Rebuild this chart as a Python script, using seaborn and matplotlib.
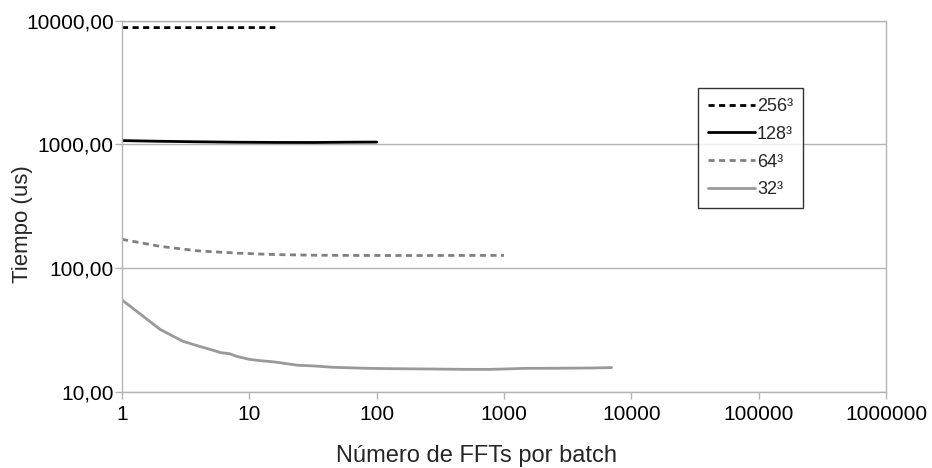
import matplotlib
matplotlib.use("Agg")
import matplotlib.pyplot as plt
import matplotlib.ticker as mticker
import seaborn as sns
import pandas as pd

sns.set_theme(style="white")
plt.rcParams['font.family'] = ['Liberation Sans', 'DejaVu Sans']

# data
n256 = [1, 2, 4, 8, 16]
t256 = [8770, 8760, 8750, 8760, 8770]

n128 = [1, 2, 4, 8, 16, 32, 64, 100]
t128 = [1069, 1055, 1045, 1037, 1033, 1032, 1038, 1040]

n64 = [1, 2, 4, 8, 16, 32, 64, 128, 256, 512, 1000]
t64 = [170, 149, 137, 131.5, 128, 126.5, 126, 125.8, 125.8, 126, 126]

n32 = [1, 2, 3, 4, 5, 6, 7, 8, 10, 12, 16, 24, 32, 45, 84, 128, 277, 512, 777, 1000, 1510, 2048, 5000, 7000]
t32 = [55, 31.7, 25.5, 23.3, 21.8, 20.6, 20.2, 19.2, 18.2, 17.8, 17.3, 16.3, 16.1, 15.7, 15.4, 15.3, 15.2, 15.1, 15.1, 15.2, 15.4, 15.4, 15.5, 15.6]

labels = ["256³", "128³", "64³", "32³"]
series = [(n256, t256), (n128, t128), (n64, t64), (n32, t32)]
colors = ["#000000", "#000000", "#808080", "#999999"]
styles = [(0, (2.2, 1.6)), "-", (0, (2.2, 1.6)), "-"]

W, H = 932, 468
fig = plt.figure(figsize=(W/100, H/100), dpi=100)
ax = fig.add_axes([122/W, 1-391.5/H, (886-122)/W, (391.5-20.5)/H])

for (x, y), lab, c, ls in zip(series, labels, colors, styles):
    df = pd.DataFrame({"x": x, "y": y})
    sns.lineplot(data=df, x="x", y="y", ax=ax, color=c, linestyle=ls,
                 linewidth=2, label=lab)

ax.set_xscale("log")
ax.set_yscale("log")
ax.set_xlim(1, 1e6)
ax.set_ylim(10, 10000)
ax.xaxis.set_major_locator(mticker.LogLocator(base=10, numticks=10))
ax.xaxis.set_minor_locator(mticker.NullLocator())
ax.yaxis.set_major_locator(mticker.LogLocator(base=10, numticks=10))
ax.yaxis.set_minor_locator(mticker.NullLocator())
ax.xaxis.set_major_formatter(mticker.FuncFormatter(lambda v, p: f"{int(round(v))}"))
ax.yaxis.set_major_formatter(mticker.FuncFormatter(lambda v, p: f"{v:.2f}".replace(".", ",")))

ax.grid(axis="y", color="#b3b3b3", linewidth=1)
ax.grid(axis="x", visible=False)
for s in ax.spines.values():
    s.set_color("#b3b3b3")
    s.set_linewidth(1)
ax.tick_params(axis="both", which="major", direction="out", length=5, width=1,
               color="#b3b3b3", labelsize=15, labelcolor="black",
               left=True, bottom=True)
ax.tick_params(axis="x", pad=5)
ax.tick_params(axis="y", pad=1)

ax.set_xlabel("")
ax.set_ylabel("")
fig.text(476/W, 1-462/H, "Número de FFTs por batch", fontsize=17,
         ha="center", va="baseline")
fig.text(22.5/W, 1-283/H, "Tiempo (us)", fontsize=16, rotation=90,
         ha="center", va="bottom")

leg = ax.legend(loc="upper left", bbox_to_anchor=((698-122)/764, (391.5-88)/371),
                frameon=True, fancybox=False, edgecolor="black", fontsize=13,
                handlelength=2.6, handletextpad=0.12, borderpad=0.55,
                labelspacing=0.6, borderaxespad=0)
leg.get_frame().set_linewidth(1)

fig.savefig("out.png", dpi=100)
